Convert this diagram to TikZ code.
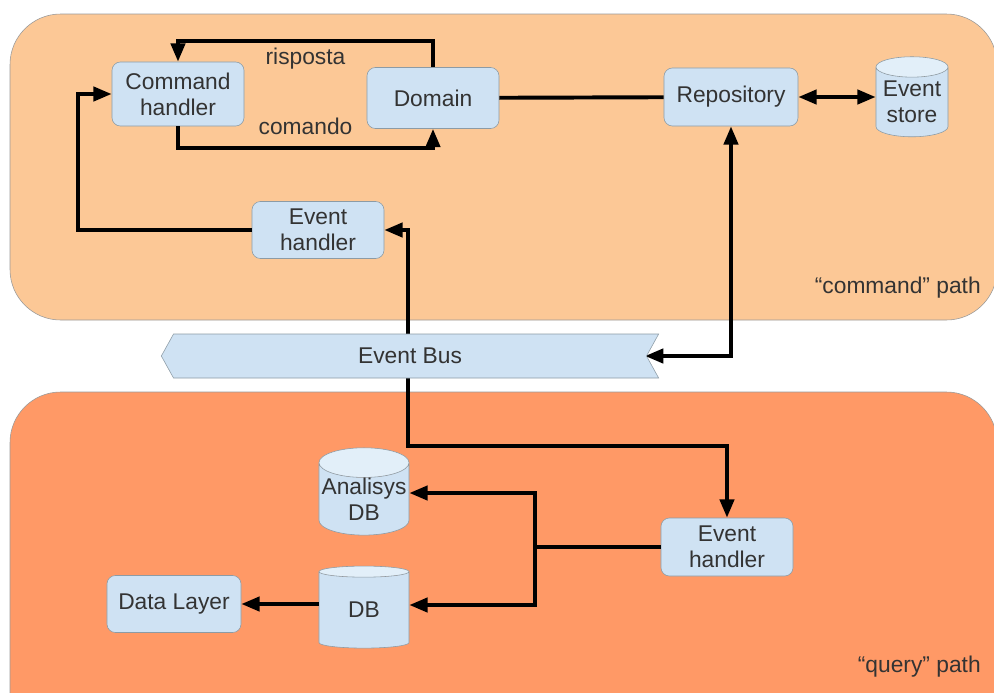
\documentclass[tikz,border=0pt]{standalone}
\usepackage{fontspec}
\setmainfont{Liberation Sans}
\usetikzlibrary{arrows.meta}
\usetikzlibrary{shapes.geometric}
\usetikzlibrary{shapes.symbols}
\pgfdeclarelayer{background}
\pgfdeclarelayer{foreground}
\pgfsetlayers{background,main,foreground}

\definecolor{cmdpath}{HTML}{FCC896}
\definecolor{qrypath}{HTML}{FF9966}
\definecolor{boxfill}{HTML}{CFE2F3}
\definecolor{boxtop}{HTML}{E2EFF9}
\definecolor{boxline}{HTML}{8C9BA5}
\definecolor{txt}{HTML}{333333}
\newcommand\diagfont{\fontsize{16.2}{18.5}\selectfont}

\tikzset{
	comp/.style={draw=boxline, fill=boxfill, rounded corners=6pt, minimum width=3.3cm, minimum height=1.45cm, align=center, text=txt, font=\diagfont},
	store/.style={cylinder, shape border rotate=90, draw=boxline, cylinder uses custom fill, cylinder body fill=boxfill, cylinder end fill=boxtop, aspect=0.35, align=center, inner sep=0pt, text=txt, font=\diagfont},
	bus/.style={signal, signal to=west, signal from=east, signal pointer angle=122, draw=boxline, fill=boxfill, minimum width=12.43cm, minimum height=1.1cm, text=txt, font=\diagfont},
	conn/.style={line width=2.8pt, >={Triangle[length=13pt,width=10pt]}},
	area/.style={draw=black!40, rounded corners=36pt},
	tag/.style={text=txt, font=\diagfont},
}

\begin{document}
\begin{tikzpicture}[x=0.025cm,y=-0.025cm]
	\useasboundingbox (0,0) rectangle (994,692);
	\begin{pgfonlayer}{background}
		\draw[area,fill=cmdpath] (10,14) rectangle (997,320);
		\draw[area,fill=qrypath] (10,392) rectangle (997,760);
	\end{pgfonlayer}
	% command side
	\node[comp, minimum height=1.6cm] (ch) at (178,94) {Command\\handler};
	\node[comp, minimum height=1.525cm] (dom) at (433,98) {Domain};
	\node[comp, minimum width=3.35cm] (repo) at (731,97) {Repository};
	\node[store, minimum width=1.8cm, minimum height=2cm] (es) at (912,102) {Event\\store};
	\node[comp, minimum height=1.425cm] (teh) at (318,230) {Event\\handler};
	\node[tag, anchor=east, inner sep=0pt] (cmdlbl) at (981,288) {“command” path};
	% bus
	\begin{pgfonlayer}{foreground}
		\node[bus] (bus) at (410,356) {Event Bus};
	\end{pgfonlayer}
	% query side
	\node[comp] (beh) at (727,547) {Event\\handler};
	\node[store, minimum width=2.25cm, minimum height=2.05cm] (adb) at (364,499) {Analisys\\DB};
	\node[store, minimum width=2.25cm, minimum height=2.05cm] (db) at (364,610) {DB};
	\node[comp, minimum width=3.35cm, minimum height=1.425cm] (dl) at (174,604) {Data Layer};
	\node[tag, anchor=east, inner sep=0pt] (qrylbl) at (981,667) {“query” path};

	\coordinate (lft) at (78,94);
	\coordinate (notch) at (645,356);
	\coordinate (bend) at (408,446);
	\coordinate (fork) at (535,547);
	\coordinate (adbin) at (535,493);
	\coordinate (dbin) at (535,605);

	\draw[conn,->] (dom.north) -- ++(0,-26) -| node[pos=0.25,below,tag]{risposta} (ch.north);
	\draw[conn,->] (ch.south) -- ++(0,22) -| node[pos=0.25,above=5pt,tag]{comando} (dom.south);
	\draw[conn] (dom) -- (repo);
	\draw[conn,<->] (repo.east) -- (repo.east -| es.west);
	\draw[conn,<->] (notch) -| (repo.south);
	\draw[conn,->] (teh.west) -| (lft) -- (ch.west);
	\draw[conn,<->] (teh.east) -| (bend) -| (beh.north);
	\draw[conn] (beh) -- (fork);
	\draw[conn,<->] (adbin -| adb.east) -- (adbin) -- (dbin) -- (dbin -| db.east);
	\draw[conn,->] (db.west |- dl) -- (dl);
\end{tikzpicture}
\end{document}
